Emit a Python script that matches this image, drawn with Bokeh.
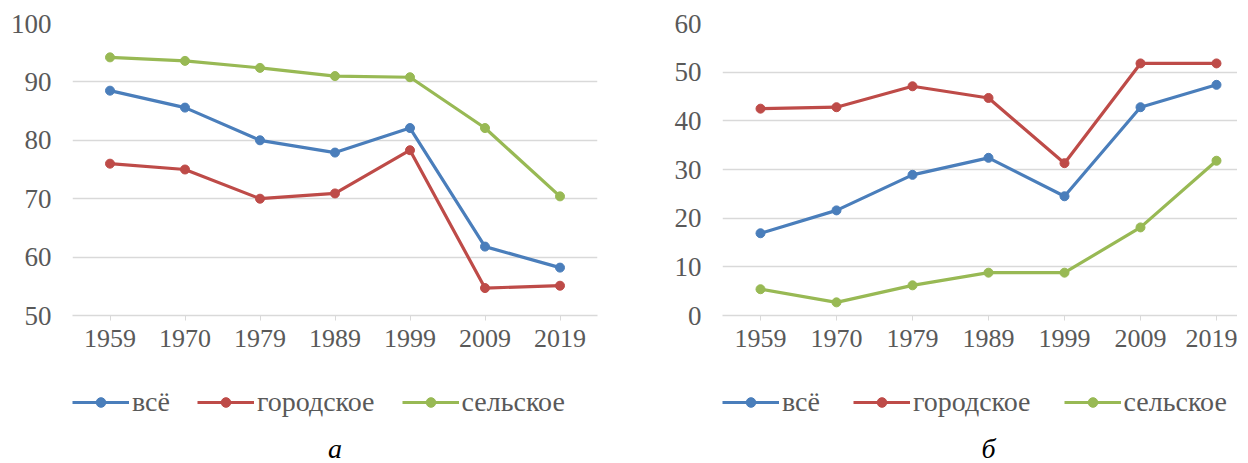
from bokeh.plotting import figure
from bokeh.models import Legend, LegendItem, Label, FixedTicker, Range1d
from bokeh.layouts import row, column
from bokeh.embed import file_html
from bokeh.resources import INLINE

years = ["1959", "1970", "1979", "1989", "1999", "2009", "2019"]

# panel а
vse_a = [88.5, 85.6, 80.0, 77.9, 82.1, 61.8, 58.2]
gor_a = [76.0, 75.0, 70.0, 70.9, 78.3, 54.7, 55.1]
sel_a = [94.2, 93.6, 92.4, 91.0, 90.8, 82.1, 70.4]

# panel б
vse_b = [16.9, 21.6, 28.9, 32.4, 24.5, 42.8, 47.4]
gor_b = [42.5, 42.8, 47.1, 44.7, 31.3, 51.8, 51.8]
sel_b = [5.4, 2.7, 6.2, 8.8, 8.8, 18.1, 31.8]

series_names = ["всё", "городское", "сельское"]
colors = ["#4a7ebb", "#be4b48", "#98b954"]
captions = ["а", "б"]

FONT = "Liberation Serif"
TXT = "#595959"
GRID = "#d9d9d9"
LEG_H = 98


def make(vals, ylo, yhi, ystep, left, frame_w, right, x_end, leg_sp, caption):
    xs = list(range(len(years)))
    width = left + frame_w + right
    p = figure(width=width, height=365, output_backend="svg",
               toolbar_location=None,
               x_range=Range1d(-0.5, x_end), y_range=Range1d(ylo, yhi),
               min_border_left=left, min_border_right=right,
               min_border_top=23, min_border_bottom=50)
    p.outline_line_color = None
    p.background_fill_color = "white"
    p.border_fill_color = "white"

    p.xaxis.ticker = FixedTicker(ticks=xs)
    p.xaxis.major_label_overrides = {i: y for i, y in enumerate(years)}
    p.xaxis.axis_line_color = GRID
    p.xaxis.axis_line_width = 1.5
    p.xaxis.major_tick_line_color = GRID
    p.xaxis.major_tick_out = 5
    p.xaxis.major_tick_in = 0
    p.xaxis.minor_tick_line_color = None
    p.xaxis.major_label_standoff = 9
    p.xaxis.major_label_text_font = FONT
    p.xaxis.major_label_text_font_size = "26px"
    p.xaxis.major_label_text_color = TXT
    p.xgrid.grid_line_color = None

    p.yaxis.ticker = FixedTicker(ticks=list(range(ylo, yhi + 1, ystep)))
    p.yaxis.axis_line_color = None
    p.yaxis.major_tick_line_color = None
    p.yaxis.minor_tick_line_color = None
    p.yaxis.major_label_standoff = 15
    p.yaxis.major_label_text_font = FONT
    p.yaxis.major_label_text_font_size = "27px"
    p.yaxis.major_label_text_color = TXT
    p.ygrid.grid_line_color = GRID
    p.ygrid.grid_line_width = 1.5

    for name, col, v in zip(series_names, colors, vals):
        p.line(xs, v, line_color=col, line_width=3.2)
        p.scatter(xs, v, size=9, marker="circle", fill_color=col, line_color=col)

    # legend + caption strip under the chart (its frame aligns with the chart's frame)
    q = figure(width=width, height=LEG_H, output_backend="svg", toolbar_location=None,
               x_range=p.x_range, y_range=Range1d(-LEG_H - 20, -20),
               min_border_left=left, min_border_right=right,
               min_border_top=0, min_border_bottom=0)
    q.axis.visible = False
    q.grid.grid_line_color = None
    q.outline_line_color = None
    q.background_fill_color = "white"
    items = []
    for name, col, v in zip(series_names, colors, vals):
        # same series, lying above this strip's visible range: only their legend glyphs show
        l = q.line(xs, v, line_color=col, line_width=3.2)
        s = q.scatter(xs, v, size=5, marker="circle", fill_color=col, line_color=col)
        items.append(LegendItem(label=name, renderers=[l, s]))
    leg = Legend(items=items, orientation="horizontal", location=(0, 45),
                 glyph_width=57, glyph_height=24, label_standoff=3, spacing=leg_sp,
                 padding=0, margin=0, border_line_color=None, background_fill_alpha=0,
                 label_text_font=FONT, label_text_font_size="28px", label_text_color=TXT,
                 label_height=26)
    q.add_layout(leg, "center")
    cap = Label(x=3, y=-LEG_H - 20, y_offset=15, text=caption, text_align="center",
                text_baseline="middle", text_font=FONT, text_font_style="italic",
                text_font_size="28px", text_color="black")
    q.add_layout(cap)
    return column(p, q, spacing=0)


ca = make([vse_a, gor_a, sel_a], 50, 100, 10, 72, 525, 38, 6.5, 27, captions[0])
cb = make([vse_b, gor_b, sel_b], 0, 60, 10, 87, 515, 0, -0.5 + 515 / 76, 33, captions[1])

layout = row(ca, cb, spacing=0)
open("out.html", "w").write(file_html(layout, INLINE))
